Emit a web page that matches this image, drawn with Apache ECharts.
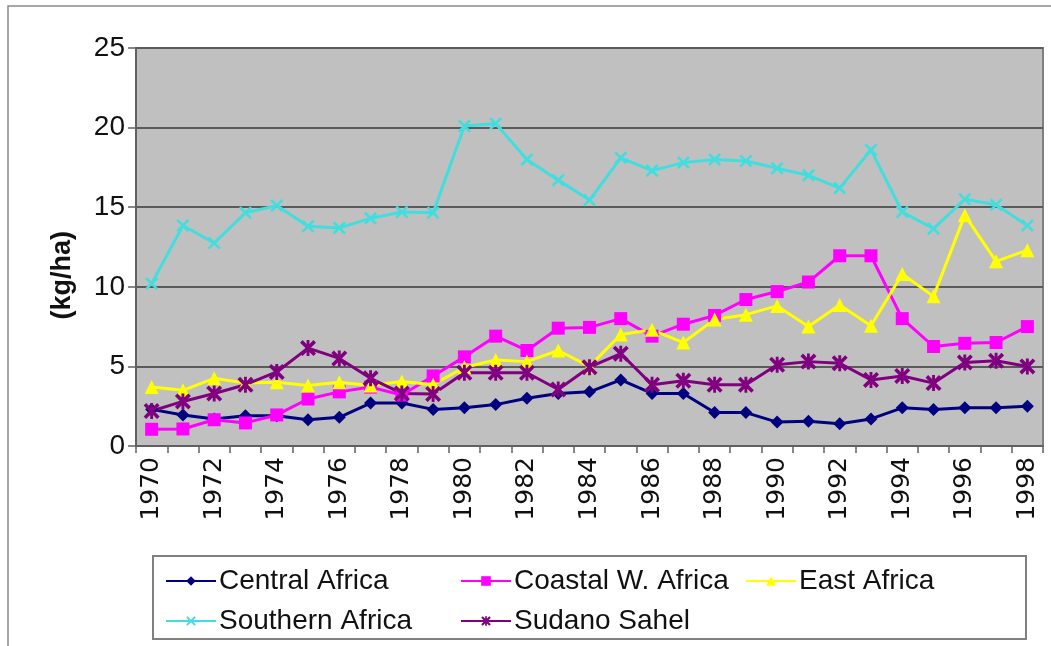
<!DOCTYPE html>
<html>
<head>
<meta charset="utf-8">
<script src="https://cdn.jsdelivr.net/npm/echarts@6/dist/echarts.min.js"></script>
<style>
html,body{margin:0;padding:0;background:#fff;}
#chart{width:1051px;height:646px;}
</style>
</head>
<body>
<div id="chart"></div>
<script>
const years = ['1970','1971','1972','1973','1974','1975','1976','1977','1978','1979','1980','1981','1982','1983','1984','1985','1986','1987','1988','1989','1990','1991','1992','1993','1994','1995','1996','1997','1998'];
const centralAfrica = [2.3,1.95,1.7,1.9,1.9,1.65,1.8,2.7,2.7,2.3,2.4,2.6,3.0,3.3,3.4,4.15,3.3,3.3,2.1,2.1,1.5,1.55,1.4,1.7,2.4,2.3,2.4,2.4,2.5];
const coastalWAfrica = [1.05,1.07,1.65,1.45,1.95,2.95,3.4,3.7,3.2,4.4,5.6,6.9,6.0,7.4,7.45,8.0,6.9,7.65,8.2,9.2,9.7,10.3,11.95,11.95,8.0,6.25,6.45,6.5,7.5];
const eastAfrica = [3.7,3.5,4.25,3.95,4.0,3.8,4.0,3.8,4.05,3.85,4.95,5.4,5.3,6.0,5.0,7.0,7.3,6.5,7.95,8.25,8.8,7.5,8.85,7.55,10.8,9.4,14.5,11.6,12.3];
const southernAfrica = [10.2,13.85,12.75,14.65,15.1,13.8,13.7,14.3,14.7,14.65,20.1,20.25,18.0,16.7,15.45,18.1,17.3,17.8,18.0,17.9,17.45,17.0,16.2,18.6,14.7,13.65,15.5,15.15,13.85];
const sudanoSahel = [2.2,2.8,3.3,3.85,4.65,6.15,5.5,4.25,3.3,3.27,4.6,4.6,4.6,3.55,4.95,5.8,3.85,4.1,3.85,3.85,5.1,5.3,5.2,4.15,4.4,3.95,5.25,5.35,5.0];
const yTicks = [0,5,10,15,20,25];

const seriesNames = ['Central Africa','Coastal W. Africa','East Africa','Southern Africa','Sudano Sahel'];
const seriesData = [centralAfrica, coastalWAfrica, eastAfrica, southernAfrica, sudanoSahel];
const colors = ['#000080','#ff00ff','#ffff00','#40dede','#800080'];
const xSym = 'path://M0,1.4 L1.4,0 L5,3.6 L8.6,0 L10,1.4 L6.4,5 L10,8.6 L8.6,10 L5,6.4 L1.4,10 L0,8.6 L3.6,5 Z';
const starSym = 'path://M0,1.6 L1.6,0 L5,3.4 L8.4,0 L10,1.6 L6.6,5 L10,8.4 L8.4,10 L5,6.6 L1.6,10 L0,8.4 L3.4,5 Z M4.1,0 L5.9,0 L5.9,10 L4.1,10 Z';
const symbols = ['diamond','rect','triangle',xSym,starSym];
const symbolSizes = [13,13,14,13,16];

const chart = echarts.init(document.getElementById('chart'));
const FONT = 'Liberation Sans, Arial, sans-serif';

const legendPos = [
  {left:160, top:562},
  {left:455, top:562},
  {left:740, top:562},
  {left:160, top:602},
  {left:455, top:602}
];

const option = {
  animation:false,
  backgroundColor:'#ffffff',
  grid:{left:136, right:8, top:48, bottom:200, show:true, backgroundColor:'#c0c0c0', borderColor:'#808080', borderWidth:2},
  xAxis:{
    type:'category',
    data:years,
    boundaryGap:true,
    axisLine:{lineStyle:{color:'#606060', width:2}},
    axisTick:{show:true, interval:0, length:7, lineStyle:{color:'#606060', width:1.5}},
    axisLabel:{interval:1, rotate:90, color:'#111', fontFamily:'DejaVu Sans, sans-serif', fontSize:25, margin:11}
  },
  yAxis:{
    type:'value',
    min:0, max:25, interval:5,
    axisLine:{show:true, lineStyle:{color:'#606060', width:2}},
    axisTick:{show:true, length:8, lineStyle:{color:'#606060', width:1.5}},
    axisLabel:{color:'#111', fontFamily:FONT, fontSize:28, margin:11,
      formatter:function(v){return yTicks.indexOf(v)>=0 ? String(v) : '';}},
    splitLine:{show:true, lineStyle:{color:'#5a5a5a', width:2}}
  },
  legend: seriesNames.map(function(n,i){
    return {data:[n], left:legendPos[i].left, top:legendPos[i].top, orient:'horizontal',
      itemWidth:50, itemHeight:12, itemGap:6,
      textStyle:{color:'#111', fontFamily:FONT, fontSize:28, padding:[0,0,0,-2]},
      selectedMode:false};
  }),
  graphic:[
    {type:'rect', shape:{x:8, y:6, width:1100, height:700}, style:{fill:'none', stroke:'#8a8a8a', lineWidth:1.5}, silent:true, z:-1},
    {type:'rect', shape:{x:153, y:556, width:873, height:83}, style:{fill:'#fff', stroke:'#808080', lineWidth:2}, silent:true, z:-1},
    {type:'text', left:49, top:231, rotation:Math.PI/2, style:{text:'(kg/ha)', font:'bold 27px ' + FONT, fill:'#111'}, silent:true}
  ],
  series: seriesNames.map(function(n,i){
    return {name:n, type:'line', data:seriesData[i], symbol:symbols[i], symbolSize:symbolSizes[i],
      showAllSymbol:true,
      lineStyle:{color:colors[i], width:3}, itemStyle:{color:colors[i], borderWidth:0}};
  })
};
chart.setOption(option);
</script>
</body>
</html>
